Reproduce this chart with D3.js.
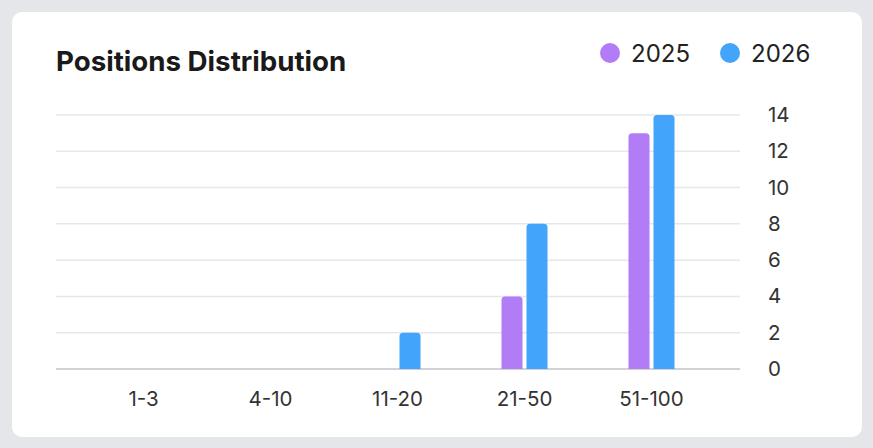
<!DOCTYPE html>
<html>
<head>
<meta charset="utf-8">
<script src="https://cdn.jsdelivr.net/npm/d3@7"></script>
<style>
  body { margin: 0; background: #e4e6e9; }
  svg { display: block; font-family: Inter, "Noto Sans", sans-serif; }
</style>
</head>
<body>
<svg id="chart" width="873" height="448"></svg>
<script>
const CATEGORIES = ["1-3", "4-10", "11-20", "21-50", "51-100"];
const YEARS = ["2025", "2026"];
const VALUES_2025 = [0, 0, 0, 4, 13];
const VALUES_2026 = [0, 0, 2, 8, 14];
const Y_TICKS = [0, 2, 4, 6, 8, 10, 12, 14];
const COLORS = { "2025": "#b27cf6", "2026": "#42a4fa" };

const svg = d3.select("#chart");

// card
svg.append("rect")
  .attr("x", 12).attr("y", 12)
  .attr("width", 850).attr("height", 425)
  .attr("rx", 10)
  .attr("fill", "#ffffff");

svg.append("text")
  .attr("x", 56).attr("y", 71)
  .attr("font-size", 27.7)
  .attr("font-weight", 700)
  .attr("fill", "#1a1a1a")
  .text("Positions Distribution");

// legend
const legendX = { "2025": 610, "2026": 730 };
YEARS.forEach(function(year) {
  svg.append("circle")
    .attr("cx", legendX[year]).attr("cy", 53)
    .attr("r", 10)
    .attr("fill", COLORS[year]);
  svg.append("text")
    .attr("x", legendX[year] + 21).attr("y", 62)
    .attr("font-size", 24)
    .attr("fill", "#222")
    .text(year);
});

let x0 = d3.scaleBand()
  .domain(CATEGORIES)
  .range([80, 715]);

let x1 = d3.scaleBand()
  .domain(YEARS)
  .range([-23, 23])
  .paddingInner(0.16);

let y = d3.scaleLinear()
  .domain([0, 14])
  .range([369, 115]);

// grid
svg.append("g")
  .selectAll("line")
  .data(Y_TICKS)
  .join("line")
  .attr("x1", 56).attr("x2", 740)
  .attr("y1", d => y(d)).attr("y2", d => y(d))
  .attr("stroke", d => d === 0 ? "#cfd2d6" : "#e6e7ea")
  .attr("stroke-width", d => d === 0 ? 2 : 1.5);

// right axis labels
let yAxis = svg.append("g")
  .attr("transform", "translate(740,0)")
  .call(d3.axisRight(y).tickValues(Y_TICKS).tickSize(0).tickPadding(28));
yAxis.select(".domain").remove();
yAxis.selectAll("text")
  .attr("font-size", 20.5)
  .attr("font-family", "Inter, 'Noto Sans', sans-serif")
  .attr("fill", "#333");

// bottom axis labels
let xAxis = svg.append("g")
  .attr("transform", "translate(0,369)")
  .call(d3.axisBottom(x0).tickSize(0).tickPadding(22));
xAxis.select(".domain").remove();
xAxis.selectAll("text")
  .attr("font-size", 20.5)
  .attr("font-family", "Inter, 'Noto Sans', sans-serif")
  .attr("fill", "#333");

function topRounded(x, yTop, w, h, r) {
  r = Math.min(r, h, w / 2);
  return "M" + x + "," + (yTop + h) +
    "V" + (yTop + r) +
    "Q" + x + "," + yTop + " " + (x + r) + "," + yTop +
    "H" + (x + w - r) +
    "Q" + (x + w) + "," + yTop + " " + (x + w) + "," + (yTop + r) +
    "V" + (yTop + h) + "Z";
}

let bars = [];
CATEGORIES.forEach(function(c, i) {
  bars.push({ cat: c, year: "2025", value: VALUES_2025[i] });
  bars.push({ cat: c, year: "2026", value: VALUES_2026[i] });
});

svg.append("g")
  .selectAll("path")
  .data(bars.filter(d => d.value > 0))
  .join("path")
  .attr("d", d => topRounded(
    x0(d.cat) + x0.bandwidth() / 2 + x1(d.year),
    y(d.value),
    x1.bandwidth(),
    y(0) - y(d.value),
    3.5))
  .attr("fill", d => COLORS[d.year]);
</script>
</body>
</html>
